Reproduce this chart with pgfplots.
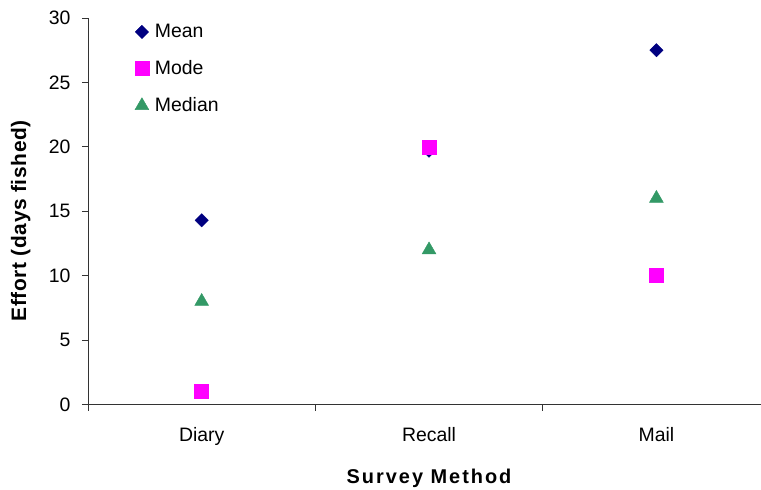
\documentclass[border=0pt]{standalone}
\usepackage{pgfplots}
\pgfplotsset{compat=1.18}
\usepackage{fontspec}
\setmainfont{Liberation Sans}
\newfontfamily\spaced[LetterSpace=10]{Liberation Sans}
\newfontfamily\yspaced[LetterSpace=3]{Liberation Sans}
\definecolor{meancol}{RGB}{0,0,128}
\definecolor{modecol}{RGB}{255,0,255}
\definecolor{medcol}{RGB}{51,153,102}
\begin{document}
\begin{tikzpicture}
\begin{axis}[
  name=ax,
  at={(0,0)}, anchor=south west,
  scale only axis,
  width=673bp, height=386.5bp,
  xmin=-0.5, xmax=2.46,
  ymin=0, ymax=30,
  axis x line*=bottom, axis y line*=left,
  axis line style={black!80, line width=0.8pt},
  xtick={-0.5,0.5,1.5},
  xticklabels={},
  extra x ticks={0,1,2},
  extra x tick labels={Diary,Recall,Mail},
  extra x tick style={major tick length=0pt, tick label style={yshift=-19bp}},
  ytick={0,5,...,30},
  tick align=outside,
  major tick length=6bp,
  tick style={black!80, line width=0.8pt},
  tick label style={font=\fontsize{19.5}{22}\selectfont},
  yticklabel style={xshift=-8bp},
  /pgf/number format/assume math mode=true,
  ylabel={\yspaced\bfseries Effort (days fished)},
  ylabel style={at={(axis description cs:-0.1,0.475)}, anchor=center, rotate=0, font=\fontsize{21}{24}\selectfont},
  xlabel={\spaced\bfseries Survey Method},
  xlabel style={at={(axis cs:1,0)}, yshift=-74bp, anchor=center, font=\fontsize{20}{24}\selectfont},
  legend style={draw=none, fill=none, at={(axis description cs:0.065,0.994)}, anchor=north west,
    font=\fontsize{19.5}{22}\selectfont, row sep=17.5bp,
    /tikz/every odd column/.append style={column sep=4bp}},
  legend cell align=left,
  clip=false,
]
\addplot[only marks, mark=square*, mark options={rotate=45}, mark size=4.7bp, color=meancol] coordinates {(0,14.3) (1,19.7) (2,27.5)};
\addlegendentry{Mean}
\addplot[only marks, mark=square*, mark size=7bp, color=modecol] coordinates {(0,1) (1,20) (2,10)};
\addlegendentry{Mode}
\addplot[only marks, mark=triangle*, mark size=8bp, color=medcol] coordinates {(0,8) (1,12) (2,16)};
\addlegendentry{Median}
\end{axis}
\pgfresetboundingbox
\path (-88bp,-85.5bp) rectangle (673bp,404.5bp);
\end{tikzpicture}
\end{document}
